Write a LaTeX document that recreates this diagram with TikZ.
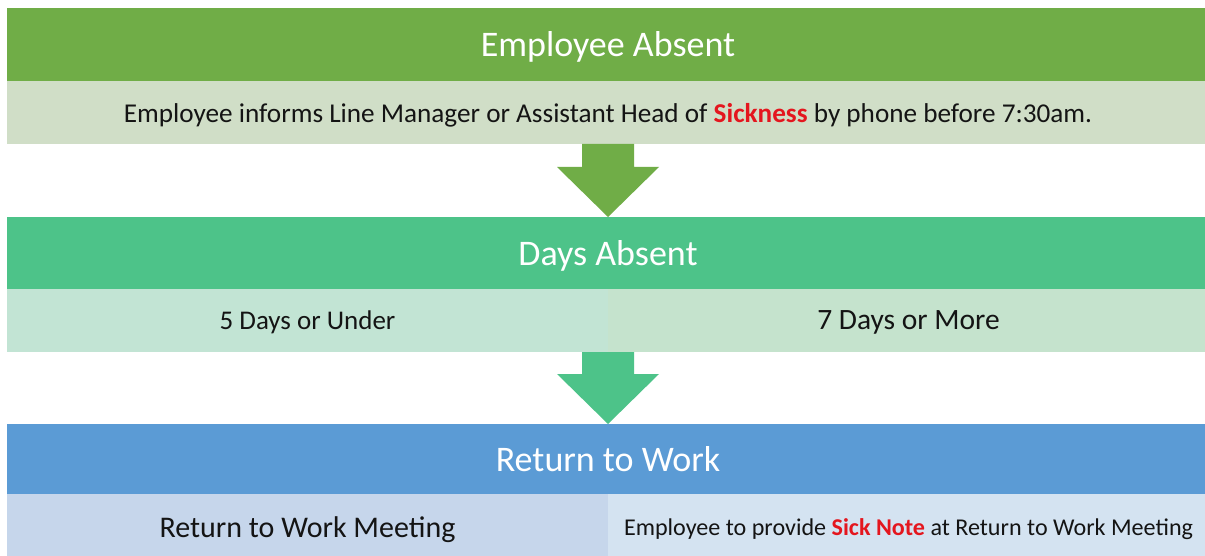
\documentclass[tikz,border=0pt]{standalone}
\usepackage{fontspec}
\setmainfont{Carlito}
\usetikzlibrary{calc}
\definecolor{hdgreen}{HTML}{70AD47}
\definecolor{lgreen}{HTML}{D0DEC7}
\definecolor{hdteal}{HTML}{4DC389}
\definecolor{lteal}{HTML}{C2E4D4}
\definecolor{lteal2}{HTML}{C5E3CD}
\definecolor{hdblue}{HTML}{5B9BD5}
\definecolor{lblue}{HTML}{C6D6EB}
\definecolor{lblue2}{HTML}{D4E3F1}
\definecolor{txt}{HTML}{141414}
\definecolor{hot}{HTML}{E4161E}
\tikzset{
  band/.style={inner sep=0pt, outer sep=0pt, minimum width=1202pt, text=#1, text depth=0pt},
  half/.style={inner sep=0pt, outer sep=0pt, minimum width=601pt, text=txt, text depth=0pt},
  blockarrow/.style={to path={
    ($(\tikztostart)+(-26,0)$) -- ($(\tikztotarget)+(-26,-50)$) -- ($(\tikztotarget)+(-51,-50)$)
    -- (\tikztotarget) -- ($(\tikztotarget)+(51,-50)$) -- ($(\tikztotarget)+(26,-50)$)
    -- ($(\tikztostart)+(26,0)$) -- cycle}}
}
\begin{document}
\begin{tikzpicture}[x=1pt,y=-1pt]
\useasboundingbox (0,0) rectangle (1205,556);
\clip (0,0) rectangle (1205,556);
\fill[white] (0,0) rectangle (1205,556);
% row 1
\node[band=white, fill=hdgreen, minimum height=73pt, font=\fontsize{36}{40}\selectfont] (h1) at (608,44.5) {Employee Absent};
\node[band=txt, fill=lgreen, minimum height=63pt, font=\fontsize{27.2}{30}\selectfont] (l1) at (608,112.5)
  {Employee informs Line Manager or Assistant Head of \textbf{\textcolor{hot}{Sickness}} by phone before 7:30am.};
% row 2
\node[band=white, fill=hdteal, minimum height=72pt, font=\fontsize{36}{40}\selectfont] (h2) at (608,253) {Days Absent};
\node[half, fill=lteal, minimum height=63pt, font=\fontsize{27}{30}\selectfont] (l2a) at (307.5,320.5) {5 Days or Under};
\node[half, fill=lteal2, minimum height=63pt, font=\fontsize{29.5}{32}\selectfont] (l2b) at (908.5,320.5) {7 Days or More};
% row 3
\node[band=white, fill=hdblue, minimum height=70pt, font=\fontsize{36}{40}\selectfont] (h3) at (608,459) {Return to Work};
\node[half, fill=lblue, minimum height=66pt, font=\fontsize{30}{33}\selectfont] (l3a) at (307.5,527) {Return to Work Meeting};
\node[half, fill=lblue2, minimum height=66pt, font=\fontsize{24.1}{27}\selectfont] (l3b) at (908.5,527)
  {Employee to provide \textbf{\textcolor{hot}{Sick Note}} at Return to Work Meeting};
% arrows
\coordinate (a1s) at (l1.south);
\coordinate (a2s) at (l2a.south -| h2.south);
\fill[hdgreen] (a1s) to[blockarrow] (h2.north);
\fill[hdteal] (a2s) to[blockarrow] (h3.north);
\end{tikzpicture}
\end{document}
